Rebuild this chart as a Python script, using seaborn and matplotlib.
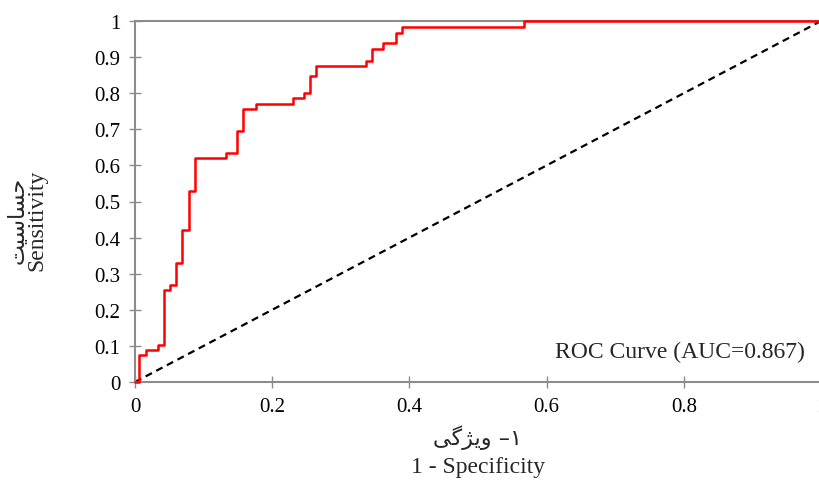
import matplotlib
matplotlib.use("Agg")
import matplotlib.pyplot as plt
import pandas as pd
import seaborn as sns


# ROC points (false positive rate, true positive rate)
fpr = [0.0, 0.006, 0.016, 0.034, 0.043, 0.051, 0.060, 0.068, 0.078, 0.087,
       0.132, 0.148, 0.158, 0.176, 0.230, 0.246, 0.255, 0.264, 0.337, 0.345,
       0.362, 0.381, 0.389, 0.567, 1.0]
tpr = [0.0, 0.075, 0.090, 0.103, 0.255, 0.270, 0.331, 0.422, 0.528, 0.620,
       0.634, 0.694, 0.756, 0.770, 0.786, 0.800, 0.847, 0.876, 0.890, 0.922,
       0.938, 0.968, 0.982, 1.0, 1.0]

chance_x = [0.0, 1.0]
chance_y = [0.0, 1.0]

x_ticks = [0, 0.2, 0.4, 0.6, 0.8, 1]
x_tick_labels = ["0", "0.2", "0.4", "0.6", "0.8", "1"]
y_ticks = [0, 0.1, 0.2, 0.3, 0.4, 0.5, 0.6, 0.7, 0.8, 0.9, 1]
y_tick_labels = ["0", "0.1", "0.2", "0.3", "0.4", "0.5", "0.6", "0.7", "0.8", "0.9", "1"]

legend_label = "ROC Curve (AUC=0.867)"

# Persian text is pre-shaped (presentation forms, visual order) because
# matplotlib does no RTL shaping
fa_sensitivity = "\uFE96\uFBFF\uFEB3\uFE8E\uFEB4\uFEA3"        # حساسیت
fa_specificity = "\uFBFD\uFB94\uFB8B\uFBFE\uFEED \u2013\u06F1"  # ۱- ویژگی
en_sensitivity = "Sensitivity"
en_specificity = "1 - Specificity"


sns.set_theme(style="white")
plt.rcParams["font.family"] = ["Liberation Serif", "DejaVu Sans"]

roc = pd.DataFrame({"fpr": fpr, "tpr": tpr})
chance = pd.DataFrame({"x": chance_x, "y": chance_y})

fig = plt.figure(figsize=(8.2, 4.81), dpi=100)
ax = fig.add_axes([135 / 820, 98 / 481, 686 / 820, 361 / 481])

sns.lineplot(
    data=chance, x="x", y="y", ax=ax,
    color="black", linestyle=(0, (3.2, 2.2)), linewidth=1.6,
    sort=False, estimator=None,
)

sns.lineplot(
    data=roc, x="fpr", y="tpr", ax=ax,
    color="#ff0000", linewidth=1.8, drawstyle="steps-post",
    sort=False, estimator=None, label=legend_label,
)
for line in ax.lines:
    line.set_clip_on(False)
ax.lines[-1].set_zorder(5)

ax.set_xlim(0, 1)
ax.set_ylim(0, 1)
ax.set_xticks(x_ticks)
ax.set_xticklabels(x_tick_labels)
ax.set_yticks(y_ticks)
ax.set_yticklabels(y_tick_labels)
ax.tick_params(
    axis="both", direction="inout", length=9, width=1,
    color="#8c8c8c", labelsize=15, labelcolor="black", pad=6,
    bottom=True, left=True,
)

for side in ["left", "bottom", "top"]:
    ax.spines[side].set_color("#8c8c8c")
    ax.spines[side].set_linewidth(1.5)
ax.spines["right"].set_visible(False)

ax.set_xlabel("")
ax.set_ylabel("")

# axis titles: Persian line above/left of the English one
fig.text(478 / 820, 1 - 438 / 481, fa_specificity, ha="center", va="center",
         fontsize=16, family=["DejaVu Sans"])
fig.text(478 / 820, 1 - 468 / 481, en_specificity, ha="center", va="center",
         fontsize=17)
fig.text(18 / 820, 1 - 220 / 481, fa_sensitivity, ha="center", va="center",
         fontsize=16, rotation=90, family=["DejaVu Sans"])
fig.text(37 / 820, 1 - 220 / 481, en_sensitivity, ha="center", va="center",
         fontsize=17, rotation=90)

ax.legend(
    loc="center right", bbox_to_anchor=(0.99, 0.086),
    frameon=False, handlelength=0, handletextpad=0,
    fontsize=17, borderpad=0, borderaxespad=0.4,
)

fig.savefig("out.png", dpi=100)
